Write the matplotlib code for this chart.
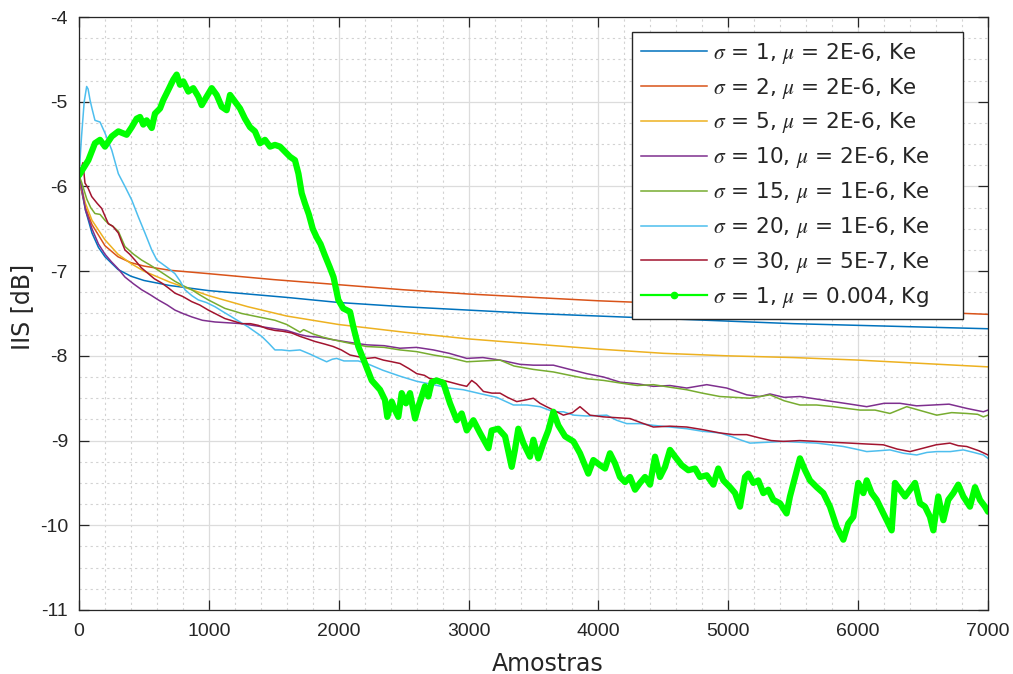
import matplotlib
matplotlib.use('Agg')
import matplotlib.pyplot as plt
from matplotlib.lines import Line2D
from matplotlib.ticker import MultipleLocator

plt.rcParams['font.family'] = ['Liberation Sans', 'DejaVu Sans']
plt.rcParams['mathtext.fontset'] = 'stix'
plt.rcParams['axes.unicode_minus'] = False

# ---------------- data ----------------
labels = [r'$\sigma$ = 1, $\mu$ = 2E-6, Ke',
          r'$\sigma$ = 2, $\mu$ = 2E-6, Ke',
          r'$\sigma$ = 5, $\mu$ = 2E-6, Ke',
          r'$\sigma$ = 10, $\mu$ = 2E-6, Ke',
          r'$\sigma$ = 15, $\mu$ = 1E-6, Ke',
          r'$\sigma$ = 20, $\mu$ = 1E-6, Ke',
          r'$\sigma$ = 30, $\mu$ = 5E-7, Ke',
          r'$\sigma$ = 1, $\mu$ = 0.004, Kg']

s1 = [(0, -5.87), (20, -6.05), (50, -6.28), (100, -6.55), (150, -6.72), (200, -6.83),
      (300, -6.98), (400, -7.06), (500, -7.11), (700, -7.17), (1000, -7.23), (1300, -7.27),
      (1600, -7.31), (2000, -7.37), (2500, -7.42), (3000, -7.46), (3500, -7.50), (4000, -7.53),
      (4500, -7.56), (5000, -7.59), (5500, -7.62), (6000, -7.64), (6500, -7.66), (7000, -7.68)]

s2 = [(0, -5.87), (20, -6.05), (50, -6.25), (100, -6.45), (200, -6.70), (300, -6.83),
      (400, -6.90), (500, -6.94), (700, -6.99), (1000, -7.03), (1500, -7.10), (2000, -7.16),
      (2500, -7.22), (3000, -7.27), (3500, -7.31), (4000, -7.35), (4500, -7.38), (5000, -7.41),
      (5500, -7.44), (6000, -7.46), (6500, -7.48), (7000, -7.51)]

s5 = [(0, -5.87), (20, -6.02), (50, -6.20), (100, -6.40), (200, -6.63), (300, -6.80),
      (400, -6.91), (500, -7.00), (700, -7.13), (1000, -7.29), (1300, -7.42), (1600, -7.53),
      (2000, -7.63), (2500, -7.72), (3000, -7.80), (3500, -7.86), (4000, -7.92), (4500, -7.97),
      (5000, -8.00), (5500, -8.02), (6000, -8.05), (6500, -8.09), (7000, -8.13)]

s10 = [(0, -5.87), (20, -6.00), (50, -6.28), (100, -6.50), (150, -6.68), (200, -6.80),
       (250, -6.89), (300, -6.97), (354, -7.07), (420, -7.15), (483, -7.22), (550, -7.28),
       (611, -7.34), (680, -7.40), (739, -7.46), (800, -7.50), (868, -7.54), (950, -7.58),
       (1047, -7.60), (1150, -7.61), (1253, -7.62), (1380, -7.65), (1509, -7.68), (1600, -7.70),
       (1702, -7.75), (1766, -7.77), (1850, -7.78), (1958, -7.81), (2080, -7.84), (2216, -7.87),
       (2350, -7.88), (2472, -7.91), (2600, -7.90), (2729, -7.93), (2850, -7.97), (2986, -8.03),
       (3110, -8.02), (3242, -8.05), (3396, -8.10), (3499, -8.11), (3653, -8.11), (3780, -8.16),
       (3910, -8.21), (4040, -8.25), (4166, -8.31), (4300, -8.33), (4423, -8.36), (4550, -8.35),
       (4680, -8.38), (4834, -8.34), (4988, -8.38), (5142, -8.46), (5244, -8.48), (5321, -8.45),
       (5430, -8.49), (5552, -8.48), (5680, -8.51), (5809, -8.54), (5940, -8.57), (6066, -8.60),
       (6200, -8.56), (6322, -8.56), (6450, -8.59), (6579, -8.58), (6700, -8.57), (6836, -8.62),
       (6964, -8.66), (7000, -8.64)]

s15 = [(0, -5.87), (20, -5.95), (40, -6.05), (60, -6.15), (90, -6.25), (123, -6.32),
       (162, -6.33), (200, -6.40), (226, -6.44), (260, -6.47), (303, -6.53), (354, -6.71),
       (420, -6.80), (483, -6.87), (550, -6.93), (611, -6.99), (680, -7.06), (739, -7.12),
       (800, -7.17), (868, -7.22), (930, -7.28), (996, -7.34), (1060, -7.39), (1124, -7.44),
       (1190, -7.47), (1253, -7.50), (1380, -7.54), (1509, -7.58), (1600, -7.63), (1702, -7.72),
       (1730, -7.69), (1800, -7.74), (1880, -7.78), (1958, -7.81), (2080, -7.85), (2216, -7.89),
       (2350, -7.90), (2472, -7.93), (2600, -7.95), (2729, -7.99), (2850, -8.02), (2986, -8.07),
       (3110, -8.06), (3242, -8.05), (3350, -8.12), (3499, -8.16), (3653, -8.19), (3780, -8.23),
       (3910, -8.27), (4040, -8.29), (4166, -8.32), (4300, -8.35), (4423, -8.34), (4550, -8.37),
       (4680, -8.40), (4800, -8.44), (4936, -8.48), (5050, -8.49), (5167, -8.50), (5321, -8.46),
       (5430, -8.53), (5552, -8.58), (5680, -8.58), (5809, -8.60), (5910, -8.62), (6014, -8.64),
       (6130, -8.64), (6245, -8.68), (6374, -8.60), (6490, -8.65), (6605, -8.70), (6720, -8.67),
       (6836, -8.68), (6920, -8.69), (6964, -8.72), (7000, -8.70)]

s20 = [(0, -5.87), (20, -5.40), (40, -5.00), (59, -4.82), (70, -4.85), (85, -4.98),
       (100, -5.08), (123, -5.22), (162, -5.24), (200, -5.37), (252, -5.57), (303, -5.85),
       (354, -6.00), (406, -6.16), (457, -6.36), (508, -6.55), (560, -6.75), (600, -6.87),
       (637, -6.91), (690, -6.97), (739, -7.03), (780, -7.12), (816, -7.22), (870, -7.29),
       (919, -7.34), (980, -7.37), (1047, -7.42), (1110, -7.48), (1176, -7.54), (1240, -7.60),
       (1304, -7.66), (1360, -7.72), (1407, -7.77), (1460, -7.85), (1509, -7.93), (1560, -7.93),
       (1620, -7.94), (1702, -7.93), (1780, -7.98), (1850, -8.03), (1907, -8.07), (1950, -8.04),
       (1984, -8.03), (2040, -8.06), (2087, -8.06), (2150, -8.06), (2216, -8.09), (2340, -8.17),
       (2472, -8.24), (2600, -8.30), (2729, -8.34), (2850, -8.38), (2960, -8.40), (3100, -8.45),
       (3217, -8.49), (3345, -8.58), (3450, -8.58), (3550, -8.60), (3653, -8.66), (3730, -8.66),
       (3810, -8.70), (3910, -8.71), (4064, -8.70), (4140, -8.76), (4218, -8.80), (4320, -8.80),
       (4423, -8.82), (4550, -8.84), (4680, -8.86), (4800, -8.89), (4936, -8.91), (5020, -8.95),
       (5090, -8.99), (5167, -9.03), (5300, -9.02), (5424, -9.01), (5550, -9.02), (5681, -9.03),
       (5786, -9.05), (5886, -9.07), (5980, -9.10), (6066, -9.13), (6160, -9.12), (6245, -9.11),
       (6350, -9.15), (6451, -9.17), (6530, -9.14), (6605, -9.13), (6710, -9.13), (6810, -9.11),
       (6890, -9.14), (6964, -9.17), (7000, -9.21)]

s30 = [(0, -5.87), (15, -5.80), (30, -5.72), (46, -5.96), (70, -6.02), (98, -6.12),
       (140, -6.20), (175, -6.26), (200, -6.35), (226, -6.44), (260, -6.47), (303, -6.55),
       (330, -6.66), (354, -6.75), (390, -6.80), (431, -6.87), (480, -6.96), (534, -7.03),
       (580, -7.09), (637, -7.14), (690, -7.20), (739, -7.26), (800, -7.30), (868, -7.36),
       (930, -7.40), (996, -7.46), (1060, -7.51), (1124, -7.56), (1190, -7.59), (1253, -7.62),
       (1320, -7.62), (1381, -7.64), (1450, -7.68), (1509, -7.70), (1570, -7.71), (1638, -7.73),
       (1702, -7.77), (1760, -7.80), (1817, -7.83), (1890, -7.86), (1958, -7.89), (2020, -7.93),
       (2087, -7.99), (2150, -8.01), (2216, -8.03), (2280, -8.02), (2344, -8.05), (2410, -8.07),
       (2472, -8.09), (2540, -8.15), (2601, -8.21), (2660, -8.23), (2703, -8.27), (2780, -8.28),
       (2857, -8.31), (2930, -8.34), (2986, -8.36), (3024, -8.29), (3060, -8.33), (3114, -8.42),
       (3180, -8.44), (3242, -8.44), (3300, -8.49), (3371, -8.54), (3440, -8.52), (3499, -8.50),
       (3550, -8.56), (3600, -8.60), (3653, -8.64), (3730, -8.70), (3800, -8.67), (3858, -8.60),
       (3935, -8.70), (4038, -8.72), (4140, -8.73), (4243, -8.74), (4330, -8.79), (4423, -8.84),
       (4550, -8.83), (4680, -8.84), (4800, -8.87), (4936, -8.91), (5040, -8.93), (5142, -8.93),
       (5244, -8.97), (5330, -9.00), (5424, -9.01), (5550, -9.00), (5681, -9.01), (5800, -9.02),
       (5937, -9.03), (6060, -9.04), (6194, -9.05), (6300, -9.10), (6399, -9.13), (6500, -9.09),
       (6600, -9.05), (6707, -9.03), (6770, -9.06), (6836, -9.07), (6930, -9.12), (7000, -9.17)]

kg = [(0, -5.87), (72, -5.69), (123, -5.49), (162, -5.45), (200, -5.53), (252, -5.41),
      (303, -5.35), (367, -5.39), (406, -5.30), (444, -5.20), (470, -5.18), (495, -5.27),
      (521, -5.22), (560, -5.31), (585, -5.14), (624, -5.08), (649, -4.98), (688, -4.86),
      (726, -4.74), (752, -4.68), (778, -4.80), (803, -4.76), (842, -4.88), (880, -4.84),
      (919, -4.94), (945, -5.04), (983, -4.94), (1022, -4.84), (1060, -4.92), (1099, -5.06),
      (1137, -5.10), (1163, -4.92), (1201, -5.00), (1240, -5.08), (1278, -5.20), (1317, -5.30),
      (1355, -5.35), (1394, -5.49), (1432, -5.45), (1471, -5.53), (1509, -5.51), (1548, -5.53),
      (1586, -5.59), (1625, -5.65), (1663, -5.69), (1690, -5.85), (1715, -6.08), (1740, -6.20),
      (1770, -6.33), (1800, -6.50), (1830, -6.60), (1860, -6.68), (1890, -6.80), (1930, -6.95),
      (1960, -7.07), (1997, -7.34), (2035, -7.44), (2087, -7.48), (2113, -7.66), (2151, -7.89),
      (2203, -8.09), (2254, -8.29), (2318, -8.40), (2356, -8.52), (2374, -8.72), (2408, -8.54),
      (2433, -8.64), (2459, -8.72), (2485, -8.44), (2518, -8.56), (2549, -8.44), (2588, -8.74),
      (2613, -8.60), (2639, -8.48), (2664, -8.36), (2690, -8.48), (2716, -8.31), (2754, -8.29),
      (2806, -8.32), (2857, -8.56), (2909, -8.76), (2947, -8.68), (2986, -8.88), (3037, -8.76),
      (3088, -8.91), (3153, -9.09), (3178, -8.88), (3229, -8.86), (3281, -8.95), (3332, -9.31),
      (3357, -9.11), (3383, -8.86), (3422, -9.03), (3473, -9.19), (3499, -8.99), (3537, -9.21),
      (3576, -9.03), (3614, -8.88), (3653, -8.66), (3691, -8.82), (3743, -8.95), (3807, -9.01),
      (3858, -9.15), (3922, -9.39), (3961, -9.23), (4012, -9.29), (4051, -9.33), (4089, -9.15),
      (4128, -9.27), (4166, -9.43), (4205, -9.49), (4243, -9.43), (4282, -9.58), (4320, -9.50),
      (4359, -9.43), (4397, -9.52), (4436, -9.19), (4474, -9.43), (4513, -9.31), (4551, -9.11),
      (4590, -9.19), (4641, -9.29), (4692, -9.35), (4744, -9.33), (4782, -9.43), (4834, -9.41),
      (4885, -9.52), (4923, -9.33), (4962, -9.47), (5013, -9.55), (5052, -9.62), (5090, -9.78),
      (5129, -9.43), (5154, -9.39), (5193, -9.50), (5231, -9.47), (5270, -9.62), (5308, -9.58),
      (5347, -9.70), (5398, -9.74), (5449, -9.86), (5475, -9.66), (5514, -9.43), (5552, -9.21),
      (5591, -9.35), (5629, -9.47), (5681, -9.55), (5732, -9.62), (5783, -9.78), (5835, -10.02),
      (5886, -10.17), (5924, -9.98), (5963, -9.90), (6001, -9.50), (6040, -9.62), (6066, -9.47),
      (6104, -9.62), (6143, -9.70), (6181, -9.82), (6220, -9.94), (6258, -10.06), (6284, -9.50),
      (6322, -9.58), (6361, -9.66), (6399, -9.58), (6438, -9.50), (6476, -9.74), (6515, -9.78),
      (6553, -9.90), (6579, -10.06), (6617, -9.66), (6656, -9.94), (6694, -9.70), (6733, -9.62),
      (6771, -9.52), (6810, -9.66), (6861, -9.78), (6900, -9.55), (6938, -9.70), (6977, -9.78),
      (7000, -9.84)]

ke_series = [s1, s2, s5, s10, s15, s20, s30]
ke_colors = ['#0072BD', '#D95319', '#EDB120', '#7E2F8E', '#77AC30', '#4DBEEE', '#A2142F']
kg_color = '#00FF00'

x_ticks = [0, 1000, 2000, 3000, 4000, 5000, 6000, 7000]
y_ticks = [-11, -10, -9, -8, -7, -6, -5, -4]

# ---------------- figure ----------------
fig = plt.figure(figsize=(10.13, 6.74), dpi=100)
ax = fig.add_axes([79 / 1013, 64 / 674, 909 / 1013, 593 / 674])

handles = []
for data, col, lab in zip(ke_series, ke_colors, labels[:7]):
    xs, ys = zip(*data)
    ln, = ax.plot(xs, ys, color=col, lw=1.1, label=lab)
    handles.append(ln)

gx, gy = zip(*kg)
ax.plot(gx, gy, color=kg_color, lw=4.5, solid_joinstyle='round', solid_capstyle='round')
handles.append(Line2D([0], [0], color=kg_color, lw=1.6, marker='.', markersize=9, label=labels[7]))

ax.set_xlim(0, 7000)
ax.set_ylim(-11, -4)
ax.set_xticks(x_ticks)
ax.set_yticks(y_ticks)
ax.xaxis.set_minor_locator(MultipleLocator(200))
ax.yaxis.set_minor_locator(MultipleLocator(0.25))

ax.grid(which='major', color='#dcdcdc', lw=0.9, ls='-')
ax.grid(which='minor', color='#d2d2d2', lw=0.8, ls=(0, (2, 3)))
ax.set_axisbelow(True)

ax.tick_params(which='major', direction='in', length=7, width=0.9, top=True, right=True,
               colors='#262626', labelsize=14)
ax.tick_params(axis='x', which='major', pad=9)
ax.tick_params(axis='y', which='major', pad=8)
ax.tick_params(which='minor', length=0)
for sp in ax.spines.values():
    sp.set_color('#262626')
    sp.set_linewidth(0.9)

ax.set_xlabel('Amostras', fontsize=17, family='DejaVu Sans', color='#262626', labelpad=9)
ax.set_ylabel('IIS [dB]', fontsize=17, family='DejaVu Sans', color='#262626', labelpad=4)
ax.xaxis.label.set_x((548 - 79) / 909)
ax.yaxis.label.set_y((610 - 307) / 593)

x0 = (632 - 79) / 909
w = (963 - 632) / 909
ytop = (610 - 32) / 593
h = (318 - 32) / 593
leg = ax.legend(handles=handles, loc='upper left', bbox_to_anchor=(x0, ytop - h, w, h),
                mode='expand', borderaxespad=0,
                prop={'family': 'DejaVu Sans', 'size': 15.5},
                frameon=True, fancybox=False, framealpha=1,
                edgecolor='#262626', handlelength=3.1, handletextpad=0.25, labelspacing=0.46,
                borderpad=0.40)
leg.get_frame().set_linewidth(1.0)
for t in leg.get_texts():
    t.set_color('#262626')

fig.savefig('out.png', dpi=100, facecolor='white')
